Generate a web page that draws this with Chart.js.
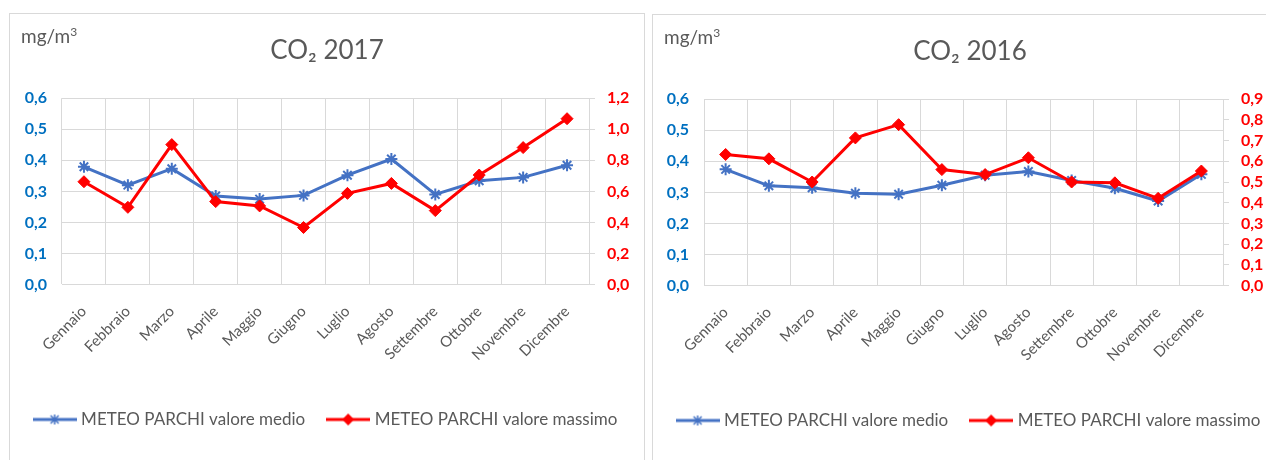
<!DOCTYPE html>
<html>
<head>
<meta charset="utf-8">
<script src="https://cdn.jsdelivr.net/npm/chart.js@4/dist/chart.umd.min.js"></script>
<style>
  html, body { margin: 0; padding: 0; background: #fff; overflow: hidden; }
  body { width: 1266px; height: 460px; position: relative; }
  .panel { position: absolute; width: 634px; height: 448px; border: 1.5px solid #d9d9d9; background: #fff; }
  .unit { position: absolute; left: 11px; top: 10px; font: 19px Lato, sans-serif; color: #595959; }
  .unit sup { font-size: 12px; }
</style>
</head>
<body>
<div class="panel" style="left:9px; top:13px;">
  <div class="unit">mg/m<sup>3</sup></div>
  <canvas id="c2017" width="634" height="448"></canvas>
</div>
<div class="panel" style="left:652px; top:14px;">
  <div class="unit">mg/m<sup>3</sup></div>
  <canvas id="c2016" width="634" height="448"></canvas>
</div>
<script>
// Data
const months = ["Gennaio", "Febbraio", "Marzo", "Aprile", "Maggio", "Giugno",
  "Luglio", "Agosto", "Settembre", "Ottobre", "Novembre", "Dicembre"];

const medio2017 = [0.379, 0.320, 0.373, 0.285, 0.275, 0.287, 0.352, 0.404, 0.290, 0.334, 0.345, 0.384];
const massimo2017 = [0.662, 0.497, 0.901, 0.534, 0.506, 0.367, 0.587, 0.651, 0.476, 0.705, 0.882, 1.068];

const medio2016 = [0.374, 0.321, 0.315, 0.297, 0.294, 0.323, 0.355, 0.367, 0.338, 0.313, 0.272, 0.358];
const massimo2016 = [0.633, 0.612, 0.500, 0.713, 0.777, 0.560, 0.536, 0.617, 0.500, 0.496, 0.421, 0.553];

const leftAxis = { min: 0, max: 0.6, step: 0.1 };
const rightAxis2017 = { min: 0, max: 1.2, step: 0.2 };
const rightAxis2016 = { min: 0, max: 0.9, step: 0.1 };

const seriesNames = ["METEO PARCHI valore medio", "METEO PARCHI valore massimo"];

const BLUE = "#4472c4";
const RED = "#ff0000";
const GRID = "#d9d9d9";
const TEXT = "#595959";
const FONT = "Lato, 'Liberation Sans', sans-serif";

// legend icon: line with the marker in the middle
function legendIcon(color, style) {
  const c = document.createElement("canvas");
  c.width = 44;
  c.height = 14;
  const ctx = c.getContext("2d");
  ctx.strokeStyle = color;
  ctx.fillStyle = color;
  ctx.lineWidth = 3;
  ctx.beginPath();
  ctx.moveTo(0, 7);
  ctx.lineTo(44, 7);
  ctx.stroke();
  ctx.lineWidth = 1.5;
  if (style === "star") {
    ctx.beginPath();
    ctx.moveTo(22, 2); ctx.lineTo(22, 12);
    ctx.moveTo(18, 3); ctx.lineTo(26, 11);
    ctx.moveTo(26, 3); ctx.lineTo(18, 11);
    ctx.stroke();
  } else {
    ctx.beginPath();
    ctx.moveTo(22, 1); ctx.lineTo(28, 7); ctx.lineTo(22, 13); ctx.lineTo(16, 7);
    ctx.closePath();
    ctx.fill();
  }
  return c;
}

const fmt = (v) => v.toFixed(1).replace(".", ",");

function makeChart(id, title, medio, massimo, right, leftW, rightW) {
  const icons = [legendIcon(BLUE, "star"), legendIcon(RED, "rectRot")];
  return new Chart(document.getElementById(id), {
    type: "line",
    data: {
      labels: months,
      datasets: [
        {
          label: seriesNames[0],
          data: medio,
          yAxisID: "y",
          borderColor: BLUE,
          backgroundColor: BLUE,
          borderWidth: 3,
          pointStyle: "star",
          pointRadius: 6,
          pointBorderWidth: 2,
          tension: 0,
          order: 1,
        },
        {
          label: seriesNames[1],
          data: massimo,
          yAxisID: "y1",
          borderColor: RED,
          backgroundColor: RED,
          borderWidth: 3,
          pointStyle: "rectRot",
          pointRadius: 6,
          pointBorderWidth: 1,
          tension: 0,
          order: 0,
        },
      ],
    },
    options: {
      responsive: false,
      animation: false,
      layout: { padding: { left: 0, right: 0, top: 0, bottom: 24 } },
      scales: {
        x: {
          offset: true,
          grid: { offset: true, color: GRID, drawTicks: false },
          border: { color: GRID },
          ticks: {
            color: TEXT,
            font: { family: FONT, size: 15 },
            maxRotation: 45,
            minRotation: 45,
            padding: 18,
          },
          afterFit: (scale) => { scale.height = 101.5; },
        },
        y: {
          position: "left",
          min: leftAxis.min,
          max: leftAxis.max,
          grid: { color: GRID, drawTicks: false },
          border: { display: false },
          ticks: {
            stepSize: leftAxis.step,
            color: "#0070c0",
            font: { family: FONT, size: 16, weight: "bold" },
            padding: 15,
            callback: fmt,
          },
          afterFit: (scale) => { scale.width = leftW; },
        },
        y1: {
          position: "right",
          min: right.min,
          max: right.max,
          grid: { drawOnChartArea: false, color: GRID, tickLength: 6 },
          border: { display: true, color: GRID },
          ticks: {
            stepSize: right.step,
            autoSkip: false,
            color: RED,
            font: { family: FONT, size: 16, weight: "bold" },
            padding: 12,
            callback: fmt,
          },
          afterFit: (scale) => { scale.width = rightW; },
        },
      },
      plugins: {
        title: {
          display: true,
          text: title,
          color: TEXT,
          font: { family: FONT, size: 26, weight: "normal" },
          padding: { top: 21, bottom: 32 },
        },
        legend: {
          position: "bottom",
          labels: {
            color: TEXT,
            font: { family: FONT, size: 17 },
            usePointStyle: true,
            pointStyleWidth: 36,
            padding: 25,
            sort: (a, b) => a.datasetIndex - b.datasetIndex,
            generateLabels: (chart) => {
              const items = Chart.defaults.plugins.legend.labels.generateLabels(chart);
              return items.map((item) => ({ ...item, pointStyle: icons[item.datasetIndex] }));
            },
          },
        },
        tooltip: { enabled: false },
      },
    },
  });
}

makeChart("c2017", "CO\u2082 2017", medio2017, massimo2017, rightAxis2017, 52, 55);
makeChart("c2016", "CO\u2082 2016", medio2016, massimo2016, rightAxis2016, 51, 64);
</script>
</body>
</html>
